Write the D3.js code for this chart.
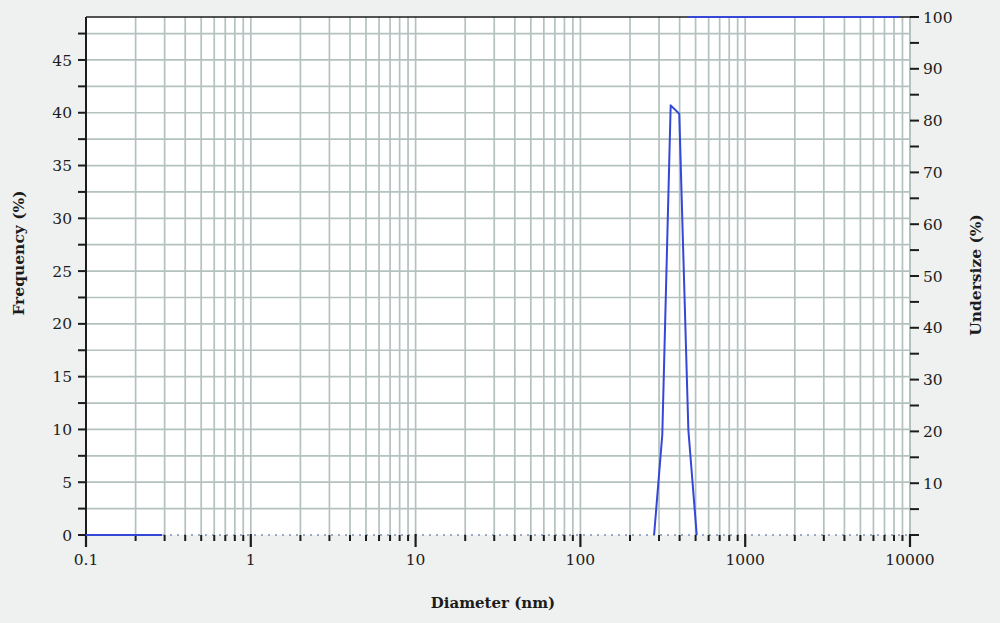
<!DOCTYPE html>
<html>
<head>
<meta charset="utf-8">
<script src="https://cdn.jsdelivr.net/npm/d3@7"></script>
<style>
  html, body { margin: 0; padding: 0; background: #eef1f0; }
  svg { display: block; }
</style>
</head>
<body>
<svg id="chart" width="1000" height="623"></svg>
<script>
// ---- data ----
const diameters = [280, 314, 353, 398, 452, 508];      // nm
const frequency = [0, 9.5, 40.7, 39.9, 9.95, 0];        // %
const undersizeLowDiam = [0.1, 0.29];
const undersizeLowVal = [0, 0];
const undersizeHighDiam = [452, 8700];
const undersizeHighVal = [100, 100];
const xTickLabels = ["0.1", "1", "10", "100", "1000", "10000"];
const xTickValues = [0.1, 1, 10, 100, 1000, 10000];
const leftTickValues = [0, 5, 10, 15, 20, 25, 30, 35, 40, 45];
const rightTickValues = [10, 20, 30, 40, 50, 60, 70, 80, 90, 100];

// ---- layout ----
const L = 86, R = 910, T = 17, B = 535;
const svg = d3.select("#chart");
const x = d3.scaleLog().domain([0.1, 10000]).range([L, R]);
const yL = d3.scaleLinear().domain([0, 49.07]).range([B, T]);
const yR = d3.scaleLinear().domain([0, 100]).range([B, T]);

const gridColor = "#b3c1bf";
const inkColor = "#1c1c1c";
const lineColor = "#3447d6";
const serif = "'DejaVu Serif', serif";

// plot background
svg.append("rect").attr("x", L).attr("y", T).attr("width", R - L).attr("height", B - T).attr("fill", "#ffffff");

// vertical grid
const minorX = x.ticks();
svg.append("g").selectAll("line").data(minorX.filter(d => d > 0.1 && d < 10000)).join("line")
  .attr("x1", d => x(d)).attr("x2", d => x(d)).attr("y1", T).attr("y2", B)
  .attr("stroke", gridColor).attr("stroke-width", 1.7);

// horizontal grid
const hGrid = d3.range(2.5, 49, 2.5);
svg.append("g").selectAll("line").data(hGrid).join("line")
  .attr("x1", L).attr("x2", R).attr("y1", d => yL(d)).attr("y2", d => yL(d))
  .attr("stroke", gridColor).attr("stroke-width", 1.7);

// right border (grey)
svg.append("line").attr("x1", R).attr("x2", R).attr("y1", T).attr("y2", B)
  .attr("stroke", gridColor).attr("stroke-width", 2);
// top border
svg.append("line").attr("x1", L).attr("x2", R).attr("y1", T).attr("y2", T)
  .attr("stroke", inkColor).attr("stroke-width", 1.3);
// left border
svg.append("line").attr("x1", L).attr("x2", L).attr("y1", T).attr("y2", B)
  .attr("stroke", inkColor).attr("stroke-width", 2);

// bottom dotted axis
svg.append("line").attr("x1", L).attr("x2", R).attr("y1", B).attr("y2", B)
  .attr("stroke", "#7f8fb3").attr("stroke-width", 1.4).attr("stroke-dasharray", "2,5");

// x ticks (minor + major)
const xAxis = svg.append("g");
xAxis.selectAll("line.minor").data(minorX.filter(d => !xTickValues.includes(d))).join("line")
  .attr("class", "minor")
  .attr("x1", d => x(d)).attr("x2", d => x(d)).attr("y1", B).attr("y2", B + 6)
  .attr("stroke", inkColor).attr("stroke-width", 2);
xAxis.selectAll("line.major").data(xTickValues).join("line")
  .attr("class", "major")
  .attr("x1", d => x(d)).attr("x2", d => x(d)).attr("y1", B - 1).attr("y2", B + 12)
  .attr("stroke", inkColor).attr("stroke-width", 2.2);
xAxis.selectAll("text").data(xTickValues).join("text")
  .attr("x", d => x(d)).attr("y", B + 30)
  .attr("text-anchor", "middle")
  .attr("font-family", serif).attr("font-size", 15.5).attr("fill", inkColor)
  .text((d, i) => xTickLabels[i]);

// left axis
const leftAll = d3.range(0, 49, 2.5);
const lg = svg.append("g");
lg.selectAll("line").data(leftAll).join("line")
  .attr("x1", L - 8).attr("x2", L).attr("y1", d => yL(d)).attr("y2", d => yL(d))
  .attr("stroke", inkColor).attr("stroke-width", 2);
lg.selectAll("text").data(leftTickValues).join("text")
  .attr("x", 72).attr("y", d => yL(d)).attr("dy", "0.36em")
  .attr("text-anchor", "end")
  .attr("font-family", serif).attr("font-size", 15.5).attr("fill", inkColor)
  .text(d => d);

// right axis
const rightAll = d3.range(0, 101, 5);
const rg = svg.append("g");
rg.selectAll("line").data(rightAll).join("line")
  .attr("x1", R).attr("x2", R + 9).attr("y1", d => yR(d)).attr("y2", d => yR(d))
  .attr("stroke", inkColor).attr("stroke-width", 2);
rg.selectAll("text").data(rightTickValues).join("text")
  .attr("x", 923).attr("y", d => yR(d)).attr("dy", "0.36em")
  .attr("text-anchor", "start")
  .attr("font-family", serif).attr("font-size", 15.5).attr("fill", inkColor)
  .text(d => d);

// series
const freqLine = d3.line().x((d, i) => x(diameters[i])).y(d => yL(d));
svg.append("path").datum(frequency).attr("d", freqLine)
  .attr("fill", "none").attr("stroke", lineColor).attr("stroke-width", 2).attr("stroke-linejoin", "round");

const underLine = (ds) => d3.line().x((d, i) => x(ds[i])).y(d => yR(d));
svg.append("path").datum(undersizeLowVal).attr("d", underLine(undersizeLowDiam))
  .attr("fill", "none").attr("stroke", lineColor).attr("stroke-width", 2);
svg.append("path").datum(undersizeHighVal).attr("d", underLine(undersizeHighDiam))
  .attr("fill", "none").attr("stroke", lineColor).attr("stroke-width", 2);

// axis titles
svg.append("text").attr("transform", "translate(24,253) rotate(-90)")
  .attr("text-anchor", "middle").attr("font-family", serif).attr("font-weight", "bold")
  .attr("font-size", 15.5).attr("fill", inkColor).text("Frequency (%)");
svg.append("text").attr("transform", "translate(981,275) rotate(-90)")
  .attr("text-anchor", "middle").attr("font-family", serif).attr("font-weight", "bold")
  .attr("font-size", 15.5).attr("fill", inkColor).text("Undersize (%)");
svg.append("text").attr("x", 493).attr("y", 608)
  .attr("text-anchor", "middle").attr("font-family", serif).attr("font-weight", "bold")
  .attr("font-size", 15).attr("fill", inkColor).text("Diameter (nm)");
</script>
</body>
</html>
